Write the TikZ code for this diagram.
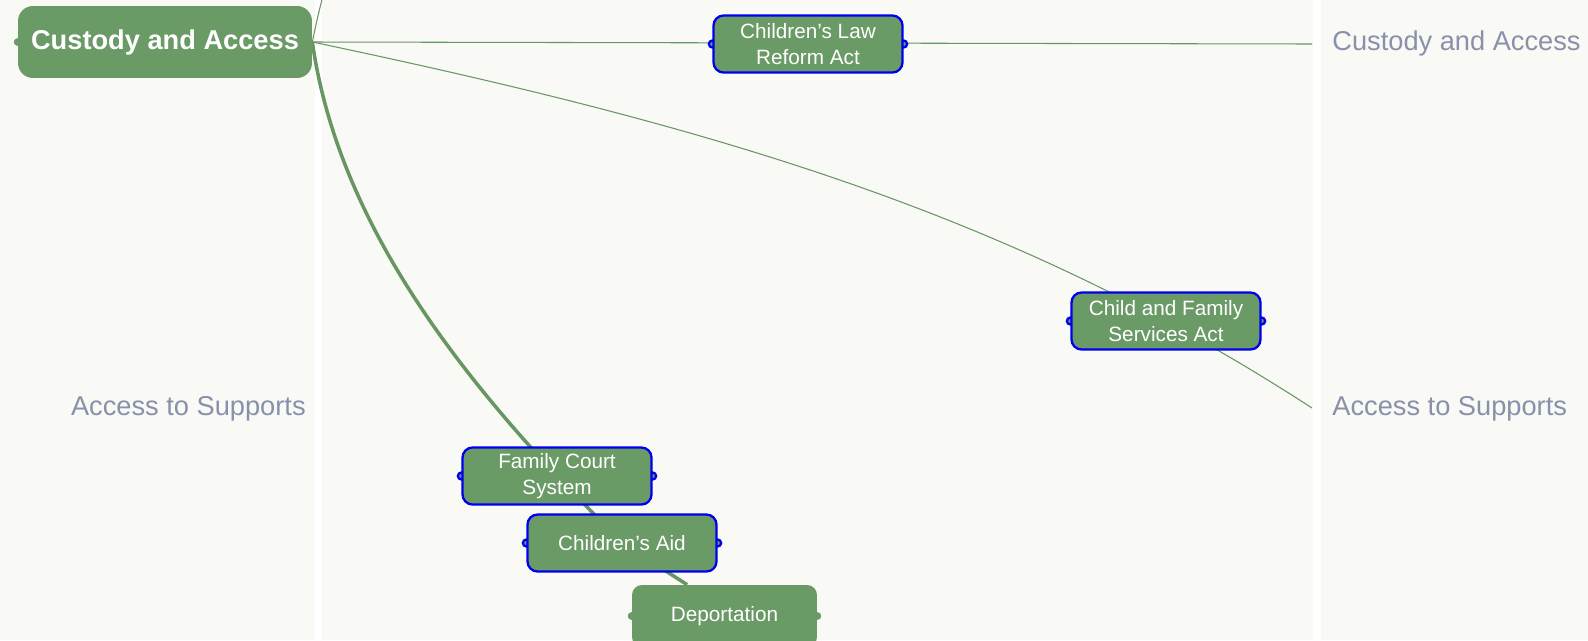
\documentclass[tikz,border=0pt]{standalone}
\usepackage{fontspec}
\setmainfont{Liberation Sans}
\definecolor{topicgreen}{RGB}{106,154,102}
\definecolor{linkgreen}{RGB}{104,150,98}
\definecolor{selblue}{RGB}{0,0,238}
\definecolor{panelbg}{RGB}{249,249,245}
\definecolor{labelgray}{RGB}{136,145,170}
\pgfdeclarelayer{panels}
\pgfdeclarelayer{links}
\pgfsetlayers{panels,links,main}
\tikzset{
  topic/.style={fill=topicgreen, text=white, rounded corners=0.2cm,
    minimum width=3.78cm, minimum height=1.14cm, align=center,
    inner sep=0pt, font=\fontsize{11.8}{14.5}\selectfont},
  picked/.style={topic, draw=selblue, line width=1.3pt},
  thinlink/.style={draw=linkgreen, line width=0.6pt},
  thicklink/.style={draw=linkgreen, line width=2pt},
  panelnote/.style={text=labelgray, inner sep=0pt, font=\fontsize{15.5}{18}\selectfont}
}
\begin{document}
\begin{tikzpicture}[x=0.02cm,y=-0.02cm]
  \useasboundingbox (0,0) rectangle (1588,640);
  \clip (0,0) rectangle (1588,640);
    \coordinate (P0) at (165,42);
    \coordinate (P1) at (808,44);
    \coordinate (P2) at (1166,321);
    \coordinate (P3) at (557,476);
    \coordinate (P4) at (622,543);
    \coordinate (P5) at (724.5,616);
    \coordinate (edgeA) at (1312,44);
    \coordinate (edgeB) at (1312,408);
    \coordinate (edgeUp) at (327,-20);
  % panels
  \begin{pgfonlayer}{panels}
    \fill[white] (0,0) rectangle (1588,640);
    \fill[panelbg] (0,0) rectangle (315,640);
    \fill[panelbg] (322,0) rectangle (1313,640);
    \fill[panelbg] (1321,0) rectangle (1588,640);
  \end{pgfonlayer}
  % topics
    \node [topic, minimum width=5.88cm, minimum height=1.44cm, rounded corners=0.3cm,
      font=\fontsize{15.5}{18}\bfseries] (custody) at (P0) {Custody and Access};
    \node [picked] (clra) at (P1) {Children’s Law\\Reform Act};
    \node [picked] (cfsa) at (P2) {Child and Family\\Services Act};
    \node [picked] (fcs) at (P3) {Family Court\\System};
    \node [picked] (aid) at (P4) {Children’s Aid};
    \node [topic, minimum width=3.7cm, minimum height=1.24cm] (deport) at (P5) {Deportation};
  % labels in the side panels
    \node [panelnote, anchor=base east] (leftsup) at (306,415) {Access to Supports};
    \node [panelnote, anchor=base west] (rightsup) at (1332,415) {Access to Supports};
    \node [panelnote, anchor=base west] (rightcust) at (1332,50) {Custody and Access};
  % links behind the topics
  \begin{pgfonlayer}{links}
      \draw [thinlink] (custody.east) -- (edgeA);
      \draw [thinlink] (custody.east)
        .. controls (712,126) and (1012,213) .. (edgeB);
      \draw [thinlink] (custody.east)
        .. controls (318,15) .. (edgeUp);
      \draw [thicklink] (custody.east)
        .. controls (335,200) and (430,340) .. (fcs.center);
      \draw [thicklink] (fcs.center) -- (aid.center);
      \draw [thicklink] (aid.center) -- (deport.140);
      \filldraw [fill=topicgreen, draw=topicgreen] (custody.west) circle (3.5);
      \filldraw [fill=topicgreen, draw=selblue, line width=1.3pt] (clra.west) circle (3.5);
      \filldraw [fill=topicgreen, draw=selblue, line width=1.3pt] (clra.east) circle (3.5);
      \filldraw [fill=topicgreen, draw=selblue, line width=1.3pt] (cfsa.west) circle (3.5);
      \filldraw [fill=topicgreen, draw=selblue, line width=1.3pt] (cfsa.east) circle (3.5);
      \filldraw [fill=topicgreen, draw=selblue, line width=1.3pt] (fcs.west) circle (3.5);
      \filldraw [fill=topicgreen, draw=selblue, line width=1.3pt] (fcs.east) circle (3.5);
      \filldraw [fill=topicgreen, draw=selblue, line width=1.3pt] (aid.west) circle (3.5);
      \filldraw [fill=topicgreen, draw=selblue, line width=1.3pt] (aid.east) circle (3.5);
      \filldraw [fill=topicgreen, draw=topicgreen] (deport.west) circle (3.5);
      \filldraw [fill=topicgreen, draw=topicgreen] (deport.east) circle (3.5);
  \end{pgfonlayer}
  \end{tikzpicture}
\end{document}
